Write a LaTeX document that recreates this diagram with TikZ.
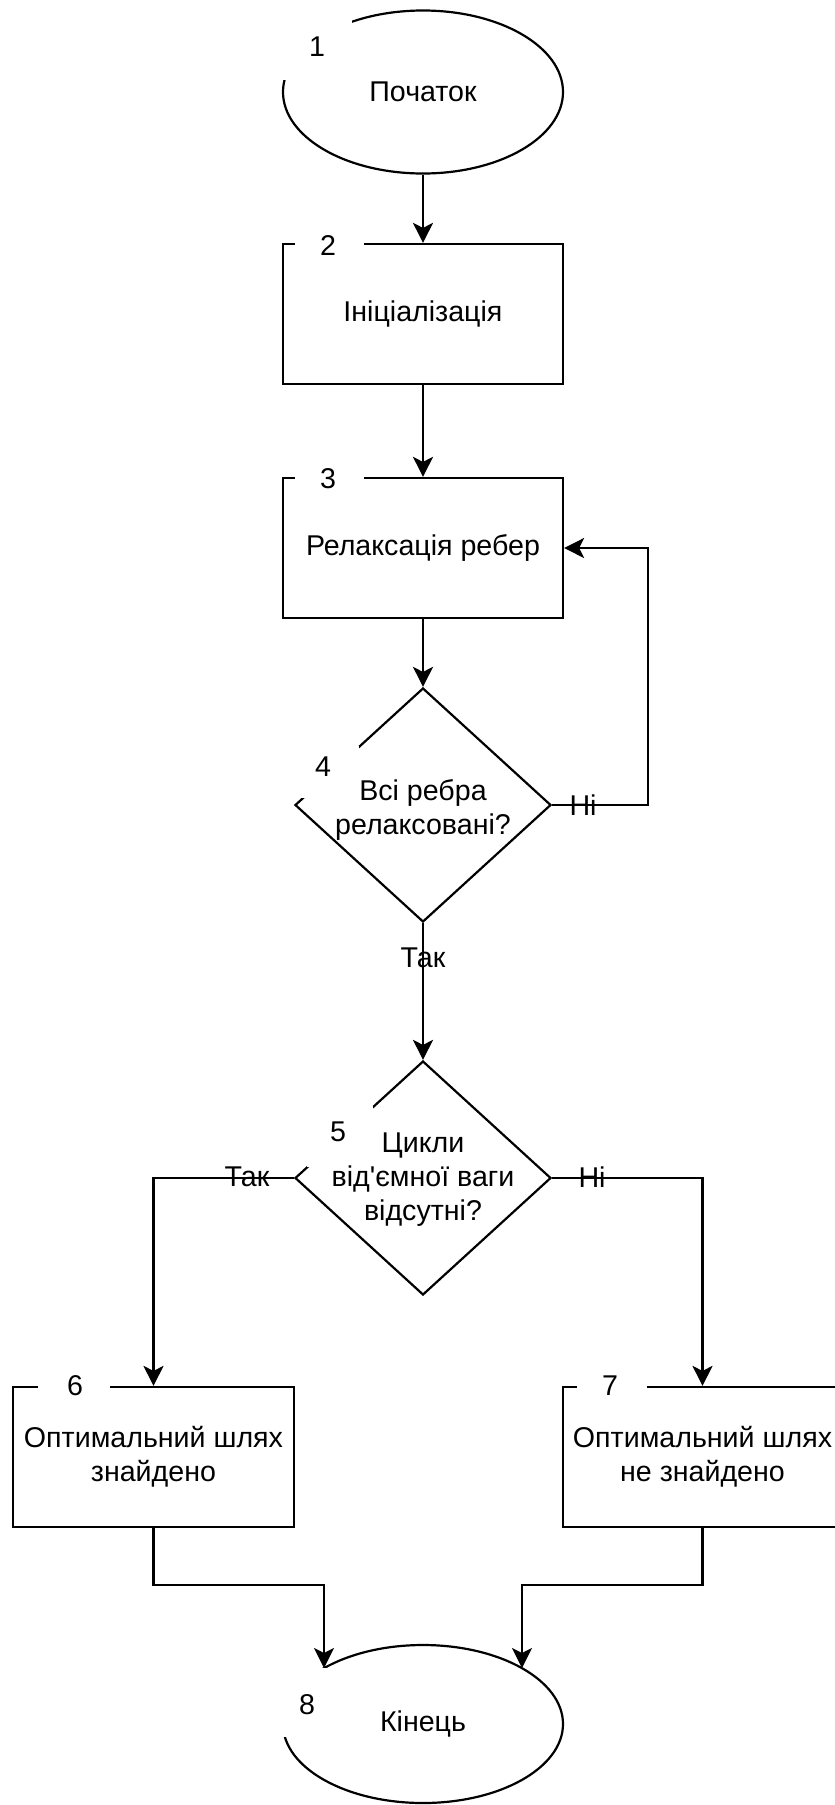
\documentclass[tikz,border=0pt]{standalone}
\usepackage{fontspec}
\setmainfont{Liberation Sans}
\usetikzlibrary{shapes.geometric,arrows.meta}

\begin{document}
\begin{tikzpicture}[x=0.5pt,y=-0.5pt,
  every node/.style={font=\fontsize{14.3}{17}\selectfont, text=black},
  line/.style={line width=1.1pt, draw=black},
  arr/.style={line, -{Stealth[length=10pt,width=10pt,inset=2.5pt]}},
  box/.style={rectangle, line, minimum width=140pt, minimum height=70pt, inner sep=0pt, align=center},
  oval/.style={ellipse, line, inner sep=0pt, minimum width=140pt},
  choice/.style={diamond, line, inner sep=0pt, minimum width=128pt, minimum height=117pt},
  cut/.style={fill=white},
  num/.style={inner sep=0pt},
  elabel/.style={inner sep=0pt}
]
\useasboundingbox (0,0) rectangle (835,1805);
\clip (0,0) rectangle (835,1805);

% flowchart blocks
\node[oval, minimum height=81.5pt] (e1) at (423,92) {Початок};
\node[box] (b2) at (423,314) {Ініціалізація};
\node[box] (b3) at (423,548) {Релаксація ребер};
\node[choice] (d4) at (423,805) {};
\node[choice] (d5) at (423,1178) {};
\node[box, minimum width=140.5pt] (b6) at (153.5,1457) {Оптимальний шлях\\знайдено};
\node[box, minimum width=139.5pt] (b7) at (702.5,1457) {Оптимальний шлях\\не знайдено};
\node[oval, minimum height=79pt] (e8) at (423,1724) {Кінець};

% white patches behind the step numbers
\fill[cut] (276,18) rectangle (352,80);
\fill[cut] (295,232) rectangle (364,258);
\fill[cut] (295,466) rectangle (364,492);
\fill[cut] (300,746) rectangle (359,798);
\fill[cut] (307,1106) rectangle (373,1167);
\fill[cut] (38,1375) rectangle (110,1399);
\fill[cut] (577,1375) rectangle (647,1399);
\fill[cut] (270,1668) rectangle (342,1737);

% texts of the decisions
\node[align=center] (t4) at (423,810) {Всі ребра\\релаксовані?};
\node[align=center] (t5) at (423,1180) {Цикли\\від\textquotesingle ємної ваги\\відсутні?};

% step numbers
\node[num] (n1) at (317,47) {1};
\node[num] (n2) at (328,246) {2};
\node[num] (n3) at (328,479) {3};
\node[num] (n4) at (323,767) {4};
\node[num] (n5) at (338,1132) {5};
\node[num] (n6) at (75,1386) {6};
\node[num] (n7) at (610,1386) {7};
\node[num] (n8) at (307,1705) {8};

% connectors
\coordinate (loop) at (648,805);
\coordinate (j6) at (324,1585);
\coordinate (e8l) at (324,1668);
\coordinate (j7) at (522,1585);
\coordinate (e8r) at (522,1668);

\draw[arr] (e1.south) -- (b2.north);
\draw[arr] (b2.south) -- (b3.north);
\draw[arr] (b3.south) -- (d4.north);
\draw[arr] (d4.east) -- (loop) |- (b3.east);
\draw[arr] (d4.south) -- (d5.north);
\draw[arr] (d5.west) -| (b6.north);
\draw[arr] (d5.east) -| (b7.north);
\draw[arr] (b6.south) |- (j6) -- (e8l);
\draw[arr] (b7.south) |- (j7) -- (e8r);

% branch labels
\node[elabel] (no4) at (583,805) {Ні};
\node[elabel] (yes4) at (423,958) {Так};
\node[elabel] (yes5) at (247,1177) {Так};
\node[elabel] (no5) at (592,1177) {Ні};
\end{tikzpicture}
\end{document}
